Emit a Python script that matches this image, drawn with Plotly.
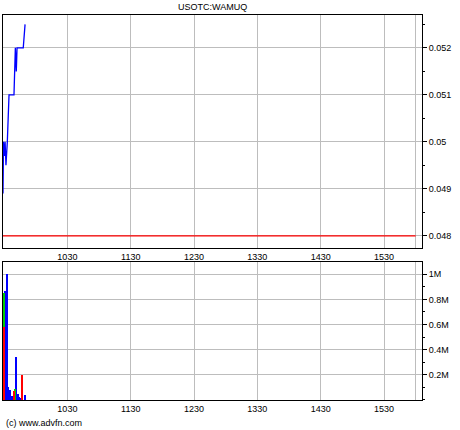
import plotly.graph_objects as go

# ---- data (minutes since midnight) ----
price_times = [569.0, 569.5, 570.3, 571.0, 571.8, 572.5, 573.1, 574.7, 579.4, 580.7, 581.6, 582.3, 588.2, 589.9]
price_values = [0.0489, 0.0500, 0.0497, 0.0500, 0.0495, 0.0500, 0.0500, 0.0510, 0.0510, 0.0520, 0.0515, 0.0520, 0.0520, 0.0525]
prev_close = 0.048
prev_close_span = [569.0, 960.0]

vol_green_times = [570.0, 580.9]
vol_green = [850000, 90000]
vol_red_times = [570.0, 579.8, 587.5]
vol_red = [580000, 70000, 200000]
vol_blue_times = [571.0, 572.1, 573.1, 574.0, 575.6, 577.8, 581.8, 583.5, 584.5, 586.2, 590.1]
vol_blue = [870000, 390000, 1000000, 100000, 80000, 30000, 340000, 50000, 25000, 10000, 40000]

x_tickvals = [630, 690, 750, 810, 870, 930, 960]
x_ticktext = ["1030", "1130", "1230", "1330", "1430", "1530", ""]
vol_tickvals = [200000, 400000, 600000, 800000, 1000000]
vol_ticktext = ["0.2M", "0.4M", "0.6M", "0.8M", "1M"]

title_text = "USOTC:WAMUQ"
credit_text = "(c) www.advfn.com"

FONT = "Liberation Sans, Arial, sans-serif"
GRID = "#bdbdbd"

fig = go.Figure()
fig.add_trace(go.Scatter(x=prev_close_span, y=[prev_close, prev_close], mode="lines",
                         line=dict(color="#ff0000", width=1.2), xaxis="x", yaxis="y", hoverinfo="skip"))
fig.add_trace(go.Scatter(x=price_times, y=price_values, mode="lines",
                         line=dict(color="#0000ff", width=1.3), xaxis="x", yaxis="y"))

fig.add_trace(go.Bar(x=vol_blue_times, y=vol_blue, width=1.0, marker=dict(color="#0000ff", line=dict(width=0)),
                     xaxis="x2", yaxis="y2"))
fig.add_trace(go.Bar(x=vol_green_times, y=vol_green, width=1.3, marker=dict(color="#00cc00", line=dict(width=0)),
                     xaxis="x2", yaxis="y2"))
fig.add_trace(go.Bar(x=vol_red_times, y=vol_red, width=1.3, marker=dict(color="#ff0000", line=dict(width=0)),
                     xaxis="x2", yaxis="y2"))

xcommon = dict(range=[569, 966], tickmode="array", tickvals=x_tickvals, ticktext=x_ticktext,
               showgrid=True, gridcolor=GRID, gridwidth=1, zeroline=False,
               showline=True, linecolor="black", linewidth=1, mirror=True, ticks="",
               tickfont=dict(family=FONT, size=9, color="black"), fixedrange=True)

fig.update_layout(
    width=460, height=430,
    margin=dict(l=3, r=38, t=15, b=30, autoexpand=False),
    paper_bgcolor="white", plot_bgcolor="white",
    showlegend=False, barmode="overlay", bargap=0,
    font=dict(family=FONT, size=9, color="black"),
    xaxis=dict(**xcommon, anchor="y"),
    xaxis2=dict(**xcommon, anchor="y2", matches="x"),
    yaxis=dict(domain=[0.3948, 1.0], range=[0.04774, 0.0527], side="right", dtick=0.001, tick0=0.048,
               showgrid=True, gridcolor=GRID, zeroline=False, showline=True, linecolor="black",
               linewidth=1, mirror=True, ticks="outside", ticklen=4, tickcolor="black",
               minor=dict(ticks="outside", dtick=0.0005, tick0=0.048, ticklen=2, tickcolor="black", showgrid=False),
               tickfont=dict(family=FONT, size=9, color="black"), fixedrange=True),
    yaxis2=dict(domain=[0.0, 0.3584], range=[0, 1097000], side="right", tickmode="array",
                tickvals=vol_tickvals, ticktext=vol_ticktext,
                showgrid=True, gridcolor=GRID, zeroline=False, showline=True, linecolor="black",
                linewidth=1, mirror=True, ticks="outside", ticklen=4, tickcolor="black",
                minor=dict(ticks="outside", dtick=100000, tick0=0, ticklen=2, tickcolor="black", showgrid=False),
                tickfont=dict(family=FONT, size=9, color="black"), fixedrange=True),
    annotations=[
        dict(text=title_text, x=0.5, y=1.0, xref="paper", yref="paper", xanchor="center", yanchor="bottom",
             yshift=1, showarrow=False, font=dict(family=FONT, size=9, color="black")),
        dict(text=credit_text, x=0.0, y=0.0, xref="paper", yref="paper", xanchor="left", yanchor="top",
             xshift=1, yshift=-16, showarrow=False, font=dict(family=FONT, size=9, color="black")),
    ],
)

fig.write_html("out.html", config={"displayModeBar": False},
               post_script="document.body.style.margin='0';document.body.style.overflow='hidden';")
